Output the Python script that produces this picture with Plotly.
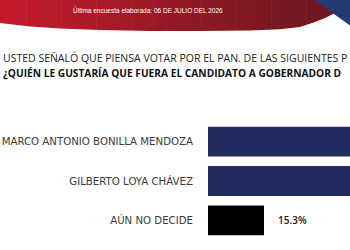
import plotly.graph_objects as go

# ---- data ----
categories = ["MARCO ANTONIO BONILLA MENDOZA", "GILBERTO LOYA CHÁVEZ", "AÚN NO DECIDE"]
values = [43.5, 41.2, 15.3]
bar_colors = ["#232c5e", "#232c5e", "#000000"]
title_line1 = "USTED SEÑALÓ QUE PIENSA VOTAR POR EL PAN. DE LAS SIGUIENTES P"
title_line2 = "¿QUIÉN LE GUSTARÍA QUE FUERA EL CANDIDATO A GOBERNADOR D"
header_text = "Última encuesta elaborada: 06 DE JULIO DEL 2026"

W, H = 350, 250
L, R, T, B = 208, 0, 122, 10
PW, PH = W - L - R, H - T - B
XMAX = 38.8

def px(x):
    return (x - L) / PW

def py(y):
    return (H - B - y) / PH

fig = go.Figure()
fig.add_trace(go.Bar(
    y=categories, x=values, orientation="h",
    marker=dict(color=bar_colors, line=dict(width=0)),
    hoverinfo="skip",
))

shapes = []
# red gradient header (vertical strips)
n = 40
c0 = (198, 28, 44)
c1 = (108, 24, 32)
for i in range(n):
    x0 = i * W / n
    x1 = (i + 1) * W / n + 0.6
    t = min(1.0, (x0 + x1) / 2 / 320)
    c = tuple(int(c0[k] + (c1[k] - c0[k]) * t) for k in range(3))
    shapes.append(dict(type="rect", xref="paper", yref="paper",
                       x0=px(x0), x1=px(x1), y0=py(0), y1=py(36),
                       fillcolor="rgb(%d,%d,%d)" % c, line=dict(width=0), layer="above"))
# white cover under the curve
curve = [(0, 23), (30, 26.5), (60, 28.5), (100, 30), (150, 31), (200, 31), (250, 30.5),
         (280, 29.3), (300, 27), (315, 22), (325, 18), (335, 13), (345, 6), (352, 0)]
p = "M %f,%f " % (px(-2), py(23))
for (x, y) in curve:
    p += "L %f,%f " % (px(x), py(y))
p += "L %f,%f L %f,%f Z" % (px(352), py(40), px(-2), py(40))
shapes.append(dict(type="path", xref="paper", yref="paper", path=p,
                   fillcolor="white", line=dict(width=0), layer="above"))
# blue triangle
p = "M %f,%f L %f,%f L %f,%f Z" % (px(313), py(-1), px(352), py(-1), px(352), py(27))
shapes.append(dict(type="path", xref="paper", yref="paper", path=p,
                   fillcolor="#243a73", line=dict(width=0), layer="above"))

annotations = [
    dict(text=header_text, xref="paper", yref="paper", x=px(148), y=py(10),
         xanchor="center", yanchor="middle", showarrow=False,
         font=dict(family="Arial, Liberation Sans", size=6.5, color="white")),
    dict(text=title_line1, xref="paper", yref="paper", x=px(1), y=py(58),
         xanchor="left", yanchor="middle", showarrow=False,
         font=dict(family="Open Sans", size=10.5, color="#222222")),
    dict(text="<b>" + title_line2 + "</b>", xref="paper", yref="paper", x=px(1), y=py(73),
         xanchor="left", yanchor="middle", showarrow=False,
         font=dict(family="Open Sans", size=10.2, color="#111111")),
]
for c, v in zip(categories, values):
    if v < XMAX - 5:
        annotations.append(dict(text="%.1f%%" % v, x=v, y=c, xref="x", yref="y",
                                xanchor="left", yanchor="middle", xshift=12, showarrow=False,
                                font=dict(family="Open Sans", size=10, weight=600, color="#222222")))

fig.update_layout(
    width=W, height=H, margin=dict(l=L, r=R, t=T, b=B),
    paper_bgcolor="white", plot_bgcolor="white",
    showlegend=False, bargap=0.24,
    xaxis=dict(range=[0, XMAX], visible=False, fixedrange=True),
    yaxis=dict(autorange="reversed", showgrid=False, zeroline=False, showline=False,
               ticks="", ticklabelstandoff=14,
               tickfont=dict(family="DejaVu Sans", size=10.2, color="#3a3a3a")),
    shapes=shapes, annotations=annotations,
)

fig.write_html("out.html", config={"displayModeBar": False})
